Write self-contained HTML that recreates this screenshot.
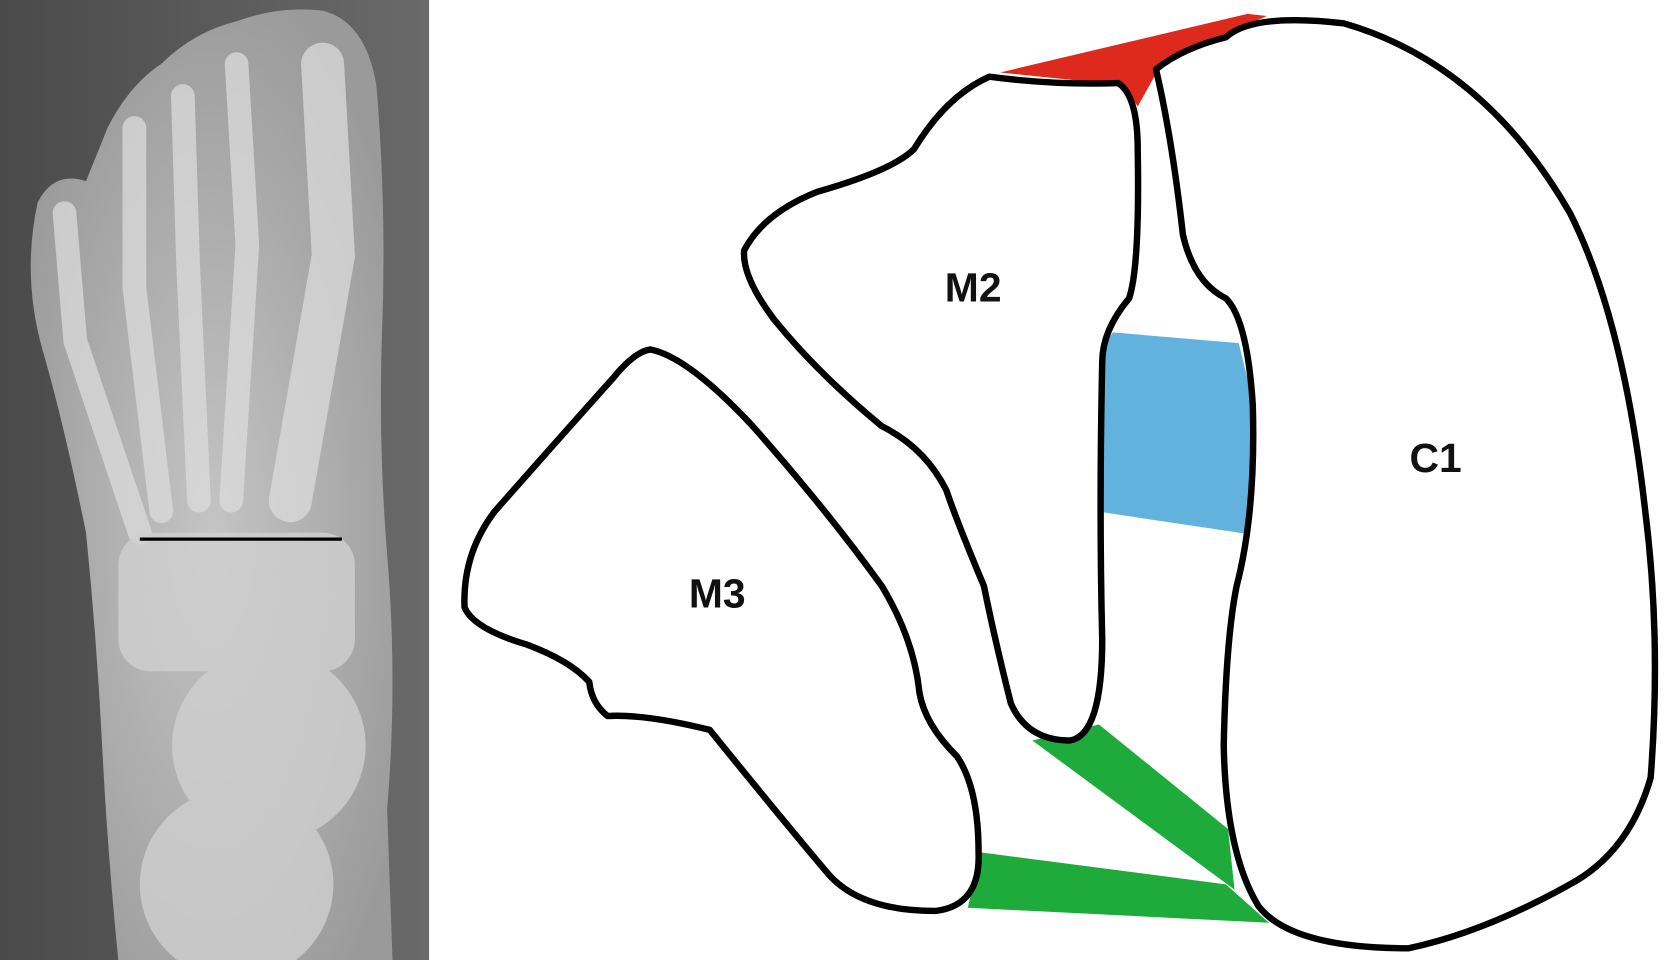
<!DOCTYPE html>
<html><head><meta charset="utf-8"><style>
html,body{margin:0;padding:0;background:#fff;width:1670px;height:960px;overflow:hidden}
svg{display:block}
text{font-family:"Liberation Sans",sans-serif;font-weight:bold;font-size:38px;fill:#111}
</style></head><body>
<svg width="1670" height="960" viewBox="0 0 1553 901" preserveAspectRatio="none">
<defs>
<radialGradient id="fg" cx="0.5" cy="0.55" r="0.6">
<stop offset="0" stop-color="#c4c4c4"/><stop offset="1" stop-color="#9a9a9a"/>
</radialGradient>
<linearGradient id="bg" x1="0" x2="1"><stop offset="0" stop-color="#4a4a4a"/><stop offset="1" stop-color="#6a6a6a"/></linearGradient>
</defs>
<g>
<rect x="0" y="0" width="399" height="901" fill="url(#bg)"/>
<path d="M35,190 Q50,160 80,170 L100,120 Q120,80 150,60 Q180,30 220,20 Q260,5 300,10 Q340,20 350,80 Q360,200 355,320 Q352,420 360,520 Q370,640 360,760 L365,901 L110,901 Q100,800 95,700 Q90,600 80,500 Q60,400 40,330 Q20,260 35,190 Z" fill="url(#fg)"/>
<g stroke="#dcdcdc" stroke-width="22" stroke-linecap="round" fill="none" opacity="0.75">
<path d="M60,200 L70,320 L130,500"/>
<path d="M125,120 L125,270 L150,480"/>
<path d="M170,90 L175,250 L185,470"/>
<path d="M220,60 L230,230 L215,470"/>
<path d="M300,60 L310,240 L270,470" stroke-width="40"/>
</g>
<g fill="#d0d0d0" opacity="0.8">
<rect x="110" y="500" width="220" height="130" rx="30"/>
<ellipse cx="250" cy="700" rx="90" ry="90"/>
<ellipse cx="220" cy="830" rx="90" ry="90"/>
</g>
<line x1="130" y1="506" x2="318" y2="506" stroke="#000" stroke-width="3"/>
</g>
<g>
<path d="M930,68 L1160,13 L1178,15 L1080,60 L1058,100 L1045,80 Z" fill="#dd2a1d"/>
<path d="M1035,312 L1152,322 L1166,380 L1166,502 L1020,480 L1022,330 Z" fill="#61b3de"/>
<path d="M960,695 L1022,680 L1142,778 L1148,835 Z" fill="#1fab3c"/>
<path d="M912,800 L1140,830 L1180,866 L900,852 Z" fill="#1fab3c"/>
<g fill="#fff" stroke="#000" stroke-width="6" stroke-linejoin="round">
<path d="M1075,65 Q1100,45 1140,35 Q1165,12 1250,22 Q1380,60 1460,200 Q1510,300 1530,480 Q1545,600 1535,730 Q1515,800 1460,830 Q1380,875 1310,890 Q1200,890 1170,850 Q1140,800 1138,700 Q1140,600 1150,550 Q1168,480 1165,380 Q1160,300 1140,280 Q1110,265 1100,220 Q1090,130 1075,65 Z"/>
<path d="M920,72 Q980,80 1040,78 Q1058,90 1058,140 Q1060,250 1050,280 Q1025,310 1025,340 Q1022,480 1025,600 Q1025,690 995,695 Q955,695 940,660 Q925,600 915,550 Q890,490 880,460 Q860,420 820,400 Q760,350 720,300 Q690,260 692,235 Q710,200 760,180 Q830,160 850,140 Q880,90 920,72 Z"/>
<path d="M605,328 Q640,335 700,400 Q770,480 820,550 Q850,600 855,650 Q860,680 890,710 Q910,740 910,800 Q912,850 870,855 Q800,855 770,820 Q720,760 660,685 Q600,670 565,672 Q550,660 548,640 Q530,620 490,605 Q440,590 432,570 Q430,520 460,480 Q530,400 570,355 Q590,330 605,328 Z"/>
</g>
<text x="905" y="283" text-anchor="middle">M2</text>
<text x="667" y="570" text-anchor="middle">M3</text>
<text x="1335" y="443" text-anchor="middle">C1</text>
</g>
</svg>
</body></html>
